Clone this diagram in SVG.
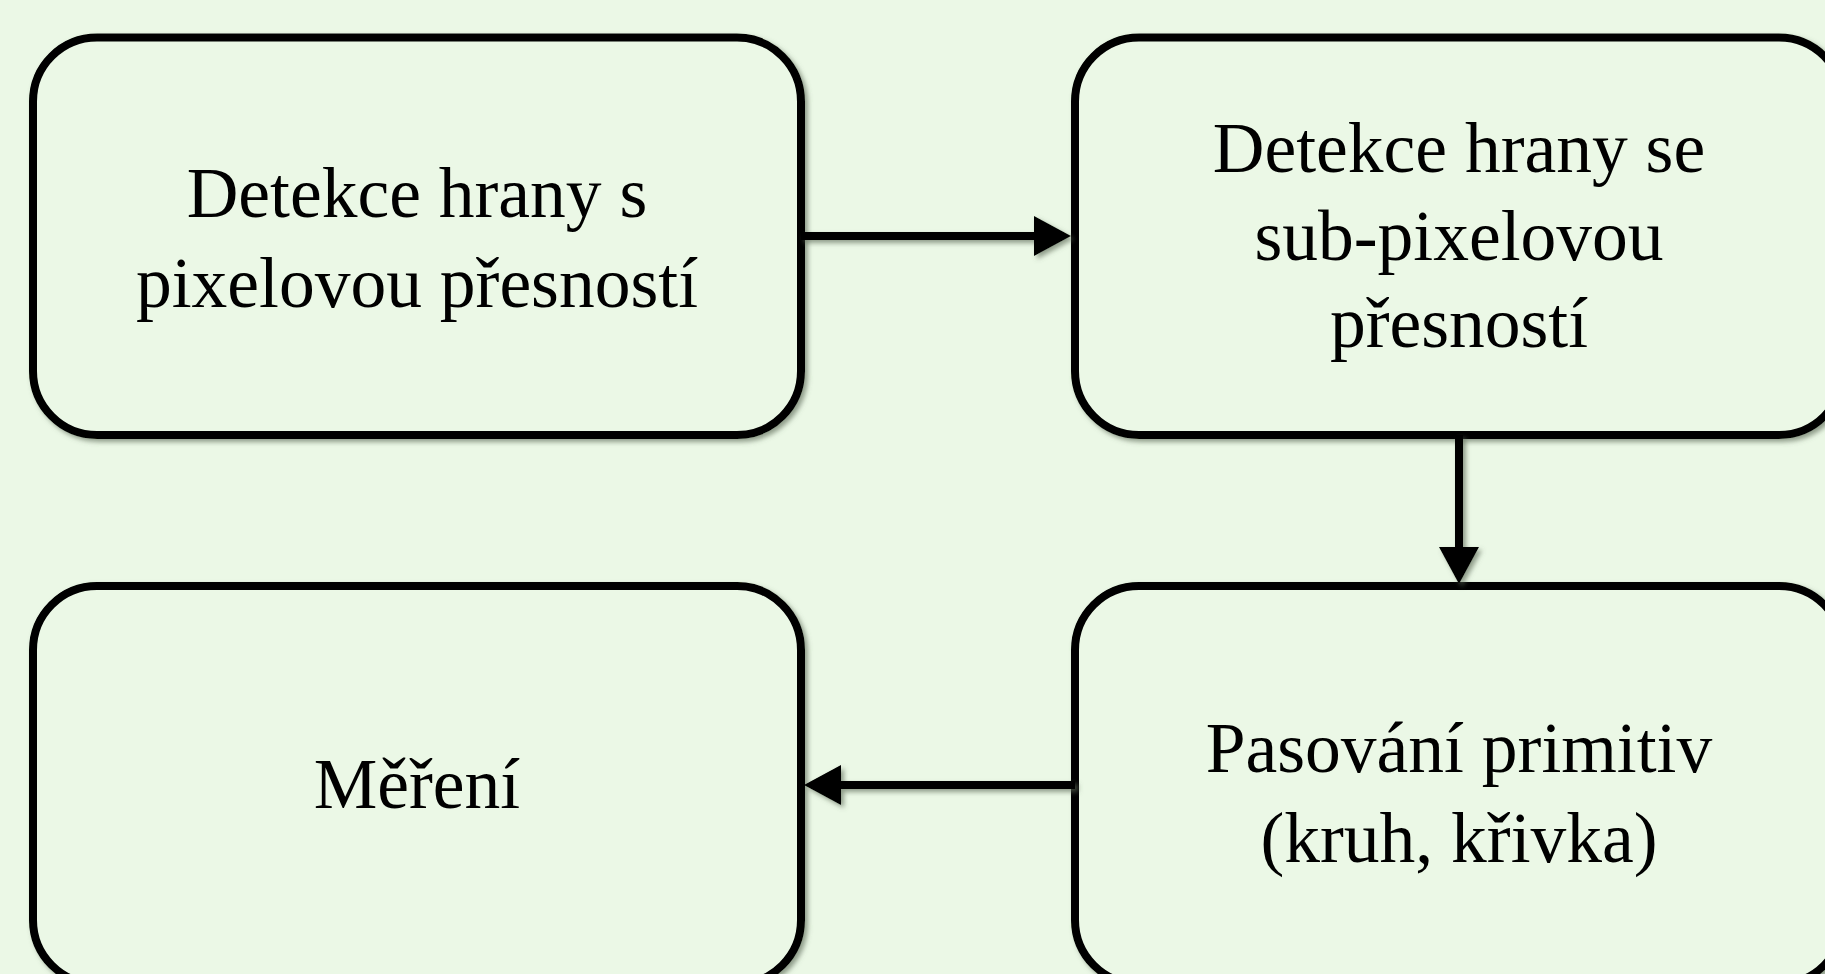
<svg xmlns="http://www.w3.org/2000/svg" width="1825" height="974" viewBox="0 0 1825 974">
  <style>
    .box { fill: #EBF8E6; stroke: #000; stroke-width: 8; }
    .lbl { font-family: "Liberation Serif", "DejaVu Serif", serif; font-size: 71.5px; fill: #000; text-anchor: middle; }
    .conn { fill: none; stroke: #000; stroke-width: 8; marker-end: url(#arrow); }
  </style>
  <defs>
    <filter id="shadow" x="-10%" y="-10%" width="130%" height="130%">
      <feDropShadow dx="3" dy="3" stdDeviation="2.5" flood-color="#5d6b58" flood-opacity="0.65"/>
    </filter>
    <marker id="arrow" markerUnits="userSpaceOnUse" markerWidth="40" markerHeight="42" refX="0" refY="20" orient="auto" overflow="visible">
      <path d="M0,0 L37,20 L0,40 Z" fill="#000"/>
    </marker>
  </defs>
  <rect x="0" y="0" width="1825" height="974" fill="#EBF8E6"/>

  <g id="node1" filter="url(#shadow)">
    <rect class="box" x="33" y="37.5" width="768" height="397.5" rx="64" ry="64"/>
    <text class="lbl" x="417" y="217">Detekce hrany s</text>
    <text class="lbl" x="417" y="307">pixelovou přesností</text>
  </g>

  <g id="node2" filter="url(#shadow)">
    <rect class="box" x="1075" y="37.5" width="768" height="397.5" rx="64" ry="64"/>
    <text class="lbl" x="1459" y="172">Detekce hrany se</text>
    <text class="lbl" x="1459" y="260">sub-pixelovou</text>
    <text class="lbl" x="1459" y="347">přesností</text>
  </g>

  <g id="node3" filter="url(#shadow)">
    <rect class="box" x="33" y="586" width="768" height="398" rx="64" ry="64"/>
    <text class="lbl" x="417" y="808">Měření</text>
  </g>

  <g id="node4" filter="url(#shadow)">
    <rect class="box" x="1075" y="586" width="768" height="398" rx="64" ry="64"/>
    <text class="lbl" x="1459" y="772">Pasování primitiv</text>
    <text class="lbl" x="1459" y="862">(kruh, křivka)</text>
  </g>

  <g id="connectors" filter="url(#shadow)">
    <path class="conn" d="M801,236 H1034"/>
    <path class="conn" d="M1459,435 V547"/>
    <path class="conn" d="M1075,785 H841"/>
  </g>
</svg>
